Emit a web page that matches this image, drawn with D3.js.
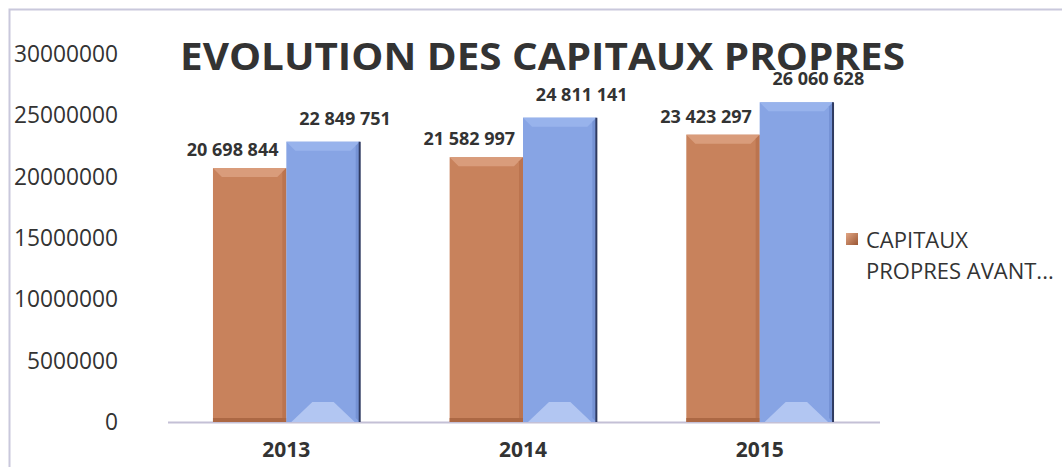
<!DOCTYPE html>
<html>
<head>
<meta charset="utf-8">
<script src="https://cdn.jsdelivr.net/npm/d3@7"></script>
<style>
  body { margin: 0; background: #fff; }
  text { font-family: "Open Sans", sans-serif; fill: #333; }
</style>
</head>
<body>
<div id="chart"></div>
<script>
var width = 1062,
    height = 467;

// data
var years = ["2013", "2014", "2015"];
var seriesNames = ["CAPITAUX PROPRES AVANT RÉPARTITION", "CAPITAUX PROPRES APRÈS RÉPARTITION"];
var avant = [20698844, 21582997, 23423297];
var apres = [22849751, 24811141, 26060628];
var yTicks = [0, 5000000, 10000000, 15000000, 20000000, 25000000, 30000000];
var legendLines = ["CAPITAUX", "PROPRES AVANT..."];

var colors = ["#c8825c", "#87a4e4"];
var bevelTop = ["#d99c7b", "#98b3ec"];
var bevelBottom = ["#ac6844", "#b2c6f2"];

var svg = d3.select("#chart").append("svg")
    .attr("width", width)
    .attr("height", height);

// frame
svg.append("path")
    .attr("d", "M9.5," + height + "V9.5H" + width)
    .attr("fill", "none")
    .attr("stroke", "#c9c8dc")
    .attr("stroke-width", 2);

var x0 = d3.scaleBand()
    .domain(years)
    .range([168, 878])
    .paddingInner(0.38)
    .paddingOuter(0.19);

var x1 = d3.scaleBand()
    .domain([0, 1])
    .range([0, x0.bandwidth()]);

var y = d3.scaleLinear()
    .domain([0, 30000000])
    .range([422, 54]);

// y axis labels
var yAxis = d3.axisLeft(y)
    .tickValues(yTicks)
    .tickFormat(d3.format("d"))
    .tickSize(0)
    .tickPadding(0);

var gy = svg.append("g")
    .attr("transform", "translate(118,0)")
    .call(yAxis);
gy.select(".domain").remove();
gy.selectAll("text")
    .attr("textLength", function(d) { return String(d).length * 13; })
    .attr("lengthAdjust", "spacingAndGlyphs")
    .style("font-family", "'Open Sans', sans-serif")
    .style("font-size", "23px")
    .style("fill", "#333");

// base line
svg.append("line")
    .attr("x1", 168).attr("x2", 880)
    .attr("y1", y(0) + 0.5).attr("y2", y(0) + 0.5)
    .attr("stroke", "#c4c0d6")
    .attr("stroke-width", 2);

// x axis labels
var xAxis = d3.axisBottom(x0).tickSize(0).tickPadding(0);
var gx = svg.append("g")
    .attr("transform", "translate(0,441)")
    .call(xAxis);
gx.select(".domain").remove();
gx.selectAll("text")
    .attr("dy", "0.78em")
    .style("font-family", "'Open Sans', sans-serif")
    .style("font-weight", "bold")
    .style("font-size", "21px")
    .style("fill", "#333");

var rows = years.map(function(yr, i) {
    return { year: yr, values: [avant[i], apres[i]] };
});

var groups = svg.selectAll(".grp")
    .data(rows)
    .enter().append("g")
    .attr("class", "grp")
    .attr("transform", function(d) { return "translate(" + x0(d.year) + ",0)"; });

var bars = groups.selectAll(".bar")
    .data(function(d) { return d.values.map(function(v, s) { return { v: v, s: s }; }); })
    .enter().append("g")
    .attr("class", "bar");

bars.each(function(d) {
    var g = d3.select(this);
    var bx = x1(d.s), bw = x1.bandwidth(), top = y(d.v), bot = y(0);
    var bev = 9;
    g.append("rect")
        .attr("x", bx).attr("y", top)
        .attr("width", bw).attr("height", bot - top)
        .attr("fill", colors[d.s]);
    // top bevel
    g.append("path")
        .attr("d", "M" + bx + "," + top + "H" + (bx + bw) + "L" + (bx + bw - bev) + "," + (top + bev) +
            "H" + (bx + bev) + "Z")
        .attr("fill", bevelTop[d.s]);
    // side shading
    g.append("path")
        .attr("d", "M" + (bx + bw) + "," + top + "V" + bot + "L" + (bx + bw - 4) + "," + (bot - 4) +
            "V" + (top + 4) + "Z")
        .attr("fill", d.s === 0 ? "#bb744f" : "#7592d4");
    // bottom bevel
    if (d.s === 1) {
        g.append("path")
            .attr("d", "M" + (bx + 5) + "," + bot + "L" + (bx + 26) + "," + (bot - 20) +
                "H" + (bx + bw - 26) + "L" + (bx + bw - 5) + "," + bot + "Z")
            .attr("fill", bevelBottom[d.s]);
        g.append("line")
            .attr("x1", bx + bw).attr("x2", bx + bw)
            .attr("y1", top).attr("y2", bot)
            .attr("stroke", "#2f3a60")
            .attr("stroke-width", 2);
    } else {
        g.append("rect")
            .attr("x", bx).attr("y", bot - 4)
            .attr("width", bw).attr("height", 4)
            .attr("fill", bevelBottom[d.s]);
    }
});

// value labels
var fmt = function(v) { return d3.format(",")(v).replace(/,/g, " "); };
bars.append("text")
    .attr("x", function(d) { return x1(d.s) + x1.bandwidth() / 2 + (d.s === 0 ? -17 : 22); })
    .attr("y", function(d) { return y(d.v) - (d.s === 0 ? 12 : 17); })
    .attr("text-anchor", "middle")
    .style("font-weight", "bold")
    .style("font-size", "18px")
    .text(function(d) { return fmt(d.v); });

// title
svg.append("text")
    .attr("x", 180)
    .attr("y", 70)
    .attr("textLength", 725)
    .attr("lengthAdjust", "spacingAndGlyphs")
    .style("font-weight", "bold")
    .style("font-size", "38px")
    .text("EVOLUTION DES CAPITAUX PROPRES");

// legend (first series only, truncated as in the original)
var defs = svg.append("defs");
var lg = defs.append("linearGradient").attr("id", "lgsq")
    .attr("x1", 0).attr("y1", 0).attr("x2", 1).attr("y2", 1);
lg.append("stop").attr("offset", 0).attr("stop-color", "#e2a684");
lg.append("stop").attr("offset", 1).attr("stop-color", "#9a5634");

svg.append("rect")
    .attr("x", 846).attr("y", 233)
    .attr("width", 12).attr("height", 12)
    .attr("fill", "url(#lgsq)");

svg.append("text")
    .attr("x", 866)
    .attr("y", 248)
    .style("font-size", "22px")
    .selectAll("tspan")
    .data(legendLines)
    .enter().append("tspan")
    .attr("x", 866)
    .attr("dy", function(d, i) { return i === 0 ? 0 : 31; })
    .text(function(d) { return d; });
</script>
</body>
</html>
